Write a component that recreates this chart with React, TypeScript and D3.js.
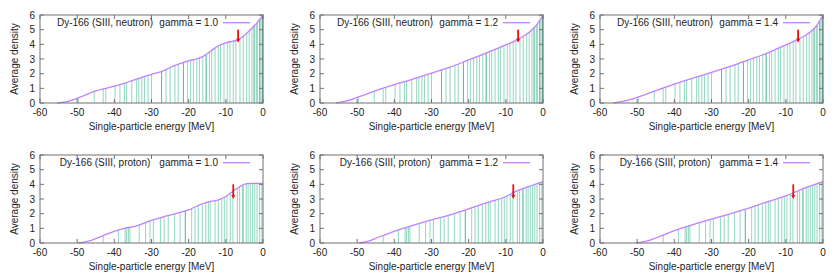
import React from "react";
import * as d3 from "d3";

// single-particle levels [MeV]; repeated values are near-degenerate levels (drawn darker)
const neutronLevels = [
  -49.7, -45.4, -43.0, -42.3, -39.8, -38.5, -37.3, -36.7, -35.3, -34.0, -33.4, -32.6,
  -31.9, -30.9, -30.0, -27.3, -27.3, -26.1, -25.0, -23.7, -22.8, -21.4, -21.4, -20.3,
  -19.5, -18.7, -17.8, -17.1, -16.2, -15.3, -15.3, -14.4, -13.8, -12.9, -12.0, -11.4,
  -10.5, -9.6, -8.9, -8.0, -7.3, -6.2, -5.3, -4.4, -3.7, -3.0, -2.4, -2.4, -1.8, -1.5,
  -0.9, -0.9, -0.5, -0.1, -0.1,
];
const protonLevels = [
  -43.0, -38.9, -37.1, -36.7, -36.2, -35.8, -33.3, -31.6, -30.4, -29.5, -27.6, -26.6,
  -25.5, -23.8, -22.3, -20.9, -20.9, -19.2, -18.3, -17.4, -16.3, -15.4, -14.7, -14.2,
  -12.9, -12.0, -11.1, -10.4, -9.7, -8.8, -8.1, -6.9, -6.3, -5.4, -5.4, -4.5, -4.0,
  -3.4, -2.8, -2.2, -1.6, -0.9, -0.3,
];

// average density curves [E, density]
const neutronG10 = [
  [-55.3, 0], [-53, 0.08], [-50, 0.32], [-47, 0.62], [-45, 0.82], [-42, 1.02], [-40, 1.15],
  [-37, 1.38], [-35, 1.55], [-32, 1.8], [-30, 1.96], [-27, 2.17], [-25, 2.42], [-22, 2.72],
  [-20, 2.88], [-18, 3.0], [-16, 3.2], [-14, 3.55], [-12, 3.9], [-10, 4.1], [-8, 4.22],
  [-6.5, 4.32], [-5, 4.62], [-3, 5.1], [-1.5, 5.5], [0, 6.0],
];
const neutronG12 = [
  [-55.6, 0], [-53, 0.12], [-50, 0.38], [-45, 0.84], [-40, 1.25], [-35, 1.63], [-30, 2.04],
  [-25, 2.45], [-20, 2.94], [-15, 3.44], [-10, 3.96], [-7, 4.3], [-5, 4.6], [-3, 4.98],
  [-1.5, 5.4], [0, 6.0],
];
const neutronG14 = [
  [-56.4, 0], [-53.5, 0.12], [-50, 0.38], [-45, 0.84], [-40, 1.29], [-35, 1.7], [-30, 2.08],
  [-25, 2.49], [-20, 2.94], [-15, 3.4], [-10, 3.96], [-7, 4.3], [-5, 4.57], [-3, 4.93],
  [-1.5, 5.35], [0, 6.0],
];
const protonG10 = [
  [-49.7, 0], [-47, 0.12], [-45, 0.3], [-42, 0.6], [-40, 0.8], [-37, 1.02], [-35, 1.1],
  [-32, 1.35], [-30, 1.54], [-27, 1.77], [-25, 1.9], [-23, 2.04], [-20, 2.26], [-18, 2.49],
  [-15, 2.78], [-12, 2.94], [-10, 3.17], [-8, 3.55], [-6, 3.88], [-4.4, 4.05], [-2, 4.07],
  [0, 4.07],
];
const protonG12 = [
  [-49.5, 0], [-47, 0.12], [-45, 0.32], [-40, 0.8], [-35, 1.2], [-30, 1.58], [-25, 1.92],
  [-20, 2.33], [-15, 2.76], [-10, 3.17], [-8, 3.44], [-5, 3.74], [-3, 3.92], [0, 4.19],
];
const protonG14 = [
  [-50.3, 0], [-47.5, 0.12], [-45, 0.34], [-40, 0.84], [-35, 1.25], [-30, 1.63], [-25, 1.99],
  [-20, 2.38], [-15, 2.81], [-10, 3.21], [-5, 3.74], [0, 4.19],
];

const gammas = ["1.0", "1.2", "1.4"];
const species = ["neutron", "proton"];
const fermiEnergy = [-6.7, -8.0];
const arrowFrom = [5.0, 4.0];
const arrowTo = [4.1, 3.0];
const xTicks = [-60, -50, -40, -30, -20, -10, 0];
const yTicks = [0, 1, 2, 3, 4, 5, 6];

const curves = [
  [neutronG10, neutronG12, neutronG14],
  [protonG10, protonG12, protonG14],
];
const levels = [neutronLevels, protonLevels];

const font = "'Liberation Sans', Arial, sans-serif";
const border = "#707070";
const fs = 10;

function densityAt(curve: number[][], e: number) {
  if (e <= curve[0][0]) return 0;
  for (let i = 1; i < curve.length; i++) {
    if (e <= curve[i][0]) {
      const [x0, y0] = curve[i - 1];
      const [x1, y1] = curve[i];
      return y0 + ((e - x0) / (x1 - x0)) * (y1 - y0);
    }
  }
  return curve[curve.length - 1][1];
}

const Panel = ({ row, col }: { row: number; col: number }) => {
  const ox = col * 280;
  const oy = row * 140;
  const x = d3.scaleLinear().domain([-60, 0]).range([ox + 40, ox + 263]);
  const y = d3.scaleLinear().domain([0, 6]).range([oy + 103, oy + 15]);
  const curve = curves[row][col];
  const line = d3
    .line<number[]>()
    .x((d) => x(d[0]))
    .y((d) => y(Math.min(6, d[1])))
    .curve(d3.curveMonotoneX);
  const [x0, x1] = x.range();
  const [y0, y1] = y.range();
  const fe = fermiEnergy[row];

  return (
    <g>
      {levels[row].map((e, i) => (
        <line
          key={i}
          x1={x(e)}
          x2={x(e)}
          y1={y0}
          y2={y(densityAt(curve, e))}
          stroke="#00a070"
          strokeOpacity={0.4}
          strokeWidth={1.1}
        />
      ))}
      <path d={line(curve) ?? ""} fill="none" stroke="#c080ff" strokeWidth={1.3} />
      <rect x={x0} y={y1} width={x1 - x0} height={y0 - y1} fill="none" stroke={border} strokeWidth={1} />
      {yTicks.map((t) => (
        <g key={t}>
          <line x1={x0} x2={x0 + 4} y1={y(t)} y2={y(t)} stroke={border} />
          <line x1={x1} x2={x1 - 4} y1={y(t)} y2={y(t)} stroke={border} />
          <text x={x0 - 5} y={y(t) + 3.5} textAnchor="end" fontSize={fs} fontFamily={font} fill="#222">
            {t}
          </text>
        </g>
      ))}
      {xTicks.map((t) => (
        <g key={t}>
          <line x1={x(t)} x2={x(t)} y1={y0} y2={y0 - 4} stroke={border} />
          <line x1={x(t)} x2={x(t)} y1={y1} y2={y1 + 4} stroke={border} />
          <text x={x(t)} y={y0 + 13} textAnchor="middle" fontSize={fs} fontFamily={font} fill="#222">
            {t}
          </text>
        </g>
      ))}
      <text x={(x0 + x1) / 2} y={oy + 130} textAnchor="middle" fontSize={fs} fontFamily={font} fill="#222">
        Single-particle energy [MeV]
      </text>
      <text
        transform={`translate(${ox + 18},${(y0 + y1) / 2}) rotate(-90)`}
        textAnchor="middle"
        fontSize={fs}
        fontFamily={font}
        fill="#222"
      >
        Average density
      </text>
      <text x={ox + 105} y={oy + 26} textAnchor="middle" fontSize={fs} fontFamily={font} fill="#222">
        {`Dy-166 (SIII, ${species[row]})`}
      </text>
      <text x={ox + 218} y={oy + 26} textAnchor="end" fontSize={fs} fontFamily={font} fill="#222">
        {`gamma = ${gammas[col]}`}
      </text>
      <line x1={ox + 223} x2={ox + 250} y1={oy + 22.7} y2={oy + 22.7} stroke="#c080ff" strokeWidth={1.3} />
      <line x1={x(fe)} x2={x(fe)} y1={y(arrowFrom[row])} y2={y(arrowTo[row]) - 3} stroke="#ee1111" strokeWidth={1.8} />
      <path
        d={`M${x(fe) - 2},${y(arrowTo[row]) - 4} L${x(fe) + 2},${y(arrowTo[row]) - 4} L${x(fe)},${y(arrowTo[row])} Z`}
        fill="#ee1111"
      />
    </g>
  );
};

const App = () => {
  return (
    <svg
      width={839}
      height={280}
      style={{ position: "absolute", left: 0, top: 0, background: "#fff" }}
    >
      {species.map((_, r) => gammas.map((_, c) => <Panel key={`${r}-${c}`} row={r} col={c} />))}
    </svg>
  );
};

export default App;
